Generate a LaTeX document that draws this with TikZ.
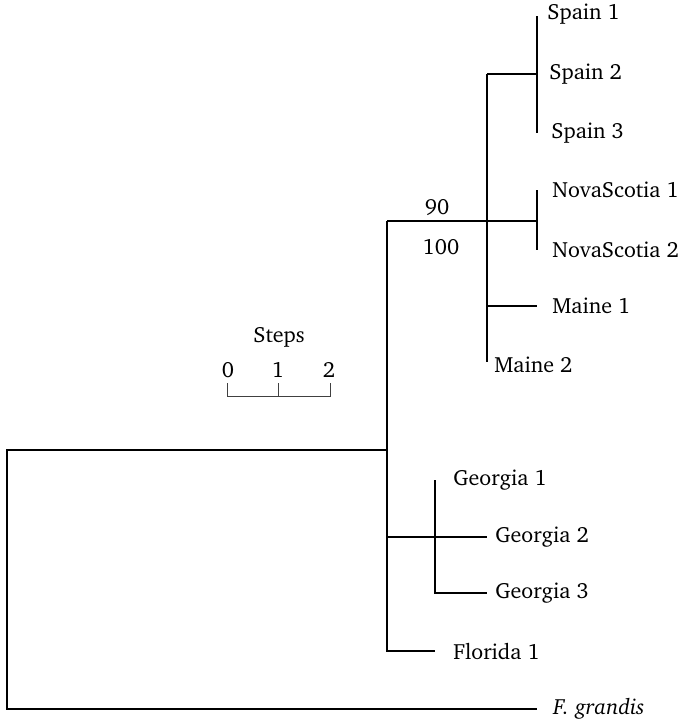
\documentclass[tikz,border=0pt]{standalone}
\usepackage[T1]{fontenc}
\usepackage{charter}
\usetikzlibrary{positioning}

\begin{document}
\begin{tikzpicture}[
  x=0.5pt, y=-0.5pt,
  node distance=6pt,
  branch/.style={line width=.65pt},
  scalebar/.style={line width=.5pt,black!75},
  leaf/.style={inner sep=0pt,font=\fontsize{11}{13}\selectfont},
  support/.style={inner sep=0pt,font=\fontsize{11}{13}\selectfont}
]
  \useasboundingbox (0,0) rectangle (682,724);

  % junctions of the tree
  \coordinate (root) at (7,450);
  \coordinate (ing) at (387,450);
  \coordinate (ingtop) at (387,221);
  \coordinate (ingbot) at (387,651);
  \coordinate (nam) at (487,221);
  \coordinate (namtop) at (487,74);
  \coordinate (nambot) at (487,362);
  \coordinate (sp) at (537,74);
  \coordinate (sptop) at (537,16);
  \coordinate (spbot) at (537,133);
  \coordinate (ns) at (537,221);
  \coordinate (nstop) at (537,190);
  \coordinate (nsbot) at (537,250);
  \coordinate (me1) at (537,306);
  \coordinate (geo) at (435,537);
  \coordinate (geotop) at (435,480);
  \coordinate (geobot) at (435,593);
  \coordinate (ge2) at (487,537);
  \coordinate (ge3) at (487,593);
  \coordinate (fl) at (435,651);
  \coordinate (fg) at (537,709);

  % leaves
  \node[leaf,right=5pt of sptop,yshift=1pt] (spain1) {Spain 1};
  \node[leaf,right=6pt of sp] (spain2) {Spain 2};
  \node[leaf,right=7pt of spbot] (spain3) {Spain 3};
  \node[leaf,right=7.5pt of nstop] (nova1) {NovaScotia 1};
  \node[leaf,right=7.5pt of nsbot] (nova2) {NovaScotia 2};
  \node[leaf,right=7.5pt of me1] (maine1) {Maine 1};
  \node[leaf,right=3.5pt of nambot,yshift=-1.5pt] (maine2) {Maine 2};
  \node[leaf,right=9pt of geotop] (georgia1) {Georgia 1};
  \node[leaf,right=4pt of ge2] (georgia2) {Georgia 2};
  \node[leaf,right=4pt of ge3] (georgia3) {Georgia 3};
  \node[leaf,right=9pt of fl] (florida1) {Florida 1};
  \node[leaf,right=8pt of fg] (grandis) {\textit{F. grandis}};

  % branches
  \draw[branch] (ing) -- (root) |- (fg);
  \draw[branch] (ingtop) -- (ingbot) -- (fl);
  \draw[branch] (ingtop) -- (ns);
  \draw[branch] (namtop) -- (nambot);
  \draw[branch] (namtop) -- (sp);
  \draw[branch] (sptop) -- (spbot);
  \draw[branch] (nstop) -- (nsbot);
  \draw[branch] (me1 -| nam) -- (me1);
  \draw[branch] (geo -| ing) -- (ge2);
  \draw[branch] (geotop) -- (geobot) -- (ge3);

  % support values
  \node[support] (boot) at (437,207) {90};
  \node[support] (jack) at (441,247) {100};

  % scale
  \node[support] (steps) at (279,337) {Steps};
  \node[support] (t0) at (228,370) {0};
  \node[support] (t1) at (278,370) {1};
  \node[support] (t2) at (329,370) {2};
  \draw[scalebar] (227,383) |- (330,396) -- (330,383);
  \draw[scalebar] (278,383) -- (278,396);
\end{tikzpicture}
\end{document}
